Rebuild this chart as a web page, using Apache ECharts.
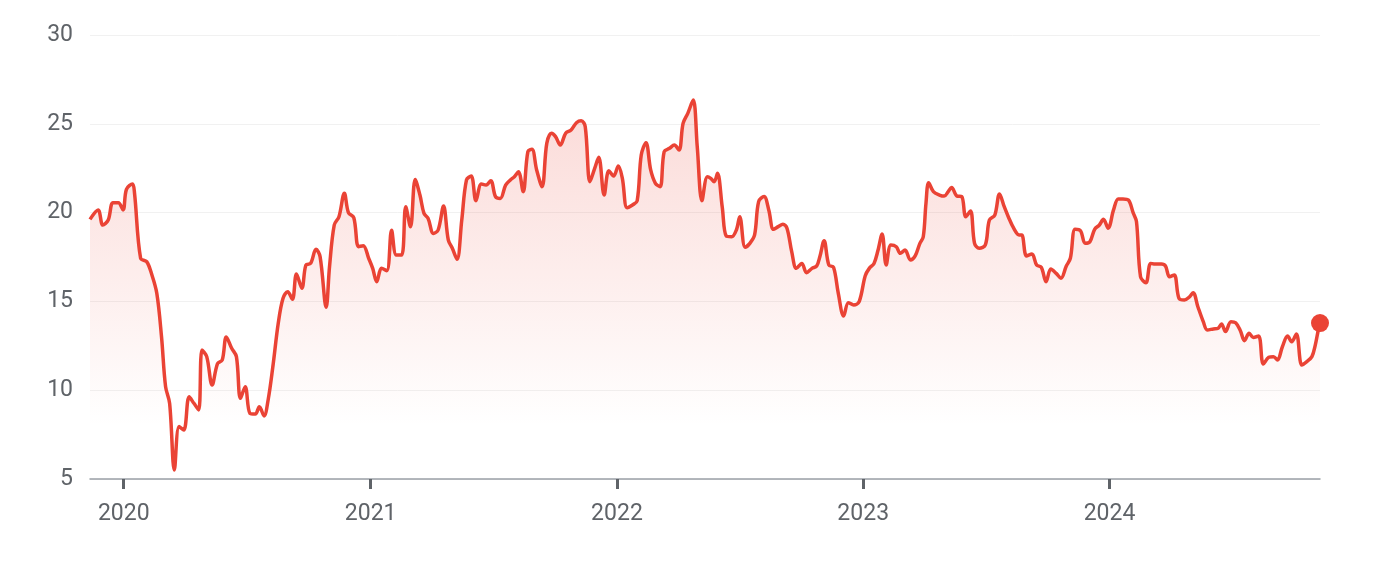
<!DOCTYPE html>
<html>
<head>
<meta charset="utf-8">
<script src="https://cdn.jsdelivr.net/npm/echarts@6/dist/echarts.min.js"></script>
<style>
html,body{margin:0;padding:0;background:#fff;}
#chart{width:1379px;height:563px;}
</style>
</head>
<body>
<div id="chart"></div>
<script>
const dates = [
'2019-11-12','2019-11-24','2019-12-01','2019-12-09','2019-12-16','2019-12-24','2019-12-31',
'2020-01-05','2020-01-14','2020-01-17','2020-01-26','2020-02-04','2020-02-11','2020-02-19','2020-02-26',
'2020-03-03','2020-03-09','2020-03-16','2020-03-23','2020-03-30','2020-04-07','2020-04-14','2020-04-21','2020-04-26',
'2020-05-03','2020-05-11','2020-05-19','2020-05-26','2020-06-01','2020-06-09','2020-06-16','2020-06-22','2020-06-29',
'2020-07-06','2020-07-14','2020-07-20','2020-07-27','2020-08-02','2020-08-09','2020-08-17','2020-08-24','2020-08-31',
'2020-09-07','2020-09-13','2020-09-21','2020-09-27','2020-10-04','2020-10-12','2020-10-18','2020-10-27',
'2020-11-01','2020-11-08','2020-11-15','2020-11-23','2020-11-29','2020-12-07','2020-12-14','2020-12-21','2020-12-29',
'2021-01-04','2021-01-10','2021-01-17','2021-01-25','2021-02-01','2021-02-08','2021-02-16','2021-02-22',
'2021-03-01','2021-03-08','2021-03-15','2021-03-21','2021-03-27','2021-04-04','2021-04-11','2021-04-19','2021-04-26',
'2021-05-02','2021-05-09','2021-05-16','2021-05-23','2021-05-30','2021-06-06','2021-06-14','2021-06-21','2021-06-28',
'2021-07-05','2021-07-12','2021-07-20','2021-07-27','2021-08-02','2021-08-08','2021-08-15','2021-08-22','2021-08-28',
'2021-09-04','2021-09-12','2021-09-19','2021-09-26','2021-10-02','2021-10-09','2021-10-17','2021-10-25',
'2021-11-02','2021-11-09','2021-11-15','2021-11-22','2021-11-29','2021-12-05','2021-12-13','2021-12-20','2021-12-27',
'2022-01-03','2022-01-09','2022-01-16','2022-01-24','2022-01-31','2022-02-06','2022-02-13','2022-02-20','2022-02-27',
'2022-03-06','2022-03-12','2022-03-20','2022-03-27','2022-04-03','2022-04-09','2022-04-16','2022-04-24','2022-04-30',
'2022-05-07','2022-05-15','2022-05-20','2022-05-25','2022-05-30','2022-06-06','2022-06-12','2022-06-20','2022-06-27',
'2022-07-02','2022-07-10','2022-07-17','2022-07-24','2022-07-30','2022-08-07','2022-08-14','2022-08-21','2022-08-28',
'2022-09-04','2022-09-10','2022-09-17','2022-09-24','2022-10-02','2022-10-09','2022-10-17','2022-10-24','2022-10-29',
'2022-11-04','2022-11-11','2022-11-18','2022-11-25','2022-12-03','2022-12-10','2022-12-18','2022-12-26',
'2023-01-04','2023-01-10','2023-01-17','2023-01-23','2023-01-29','2023-02-04','2023-02-11','2023-02-19','2023-02-25',
'2023-03-04','2023-03-12','2023-03-19','2023-03-26','2023-03-31','2023-04-04','2023-04-08','2023-04-15','2023-04-24',
'2023-05-01','2023-05-07','2023-05-12','2023-05-20','2023-05-27','2023-06-02','2023-06-09','2023-06-15','2023-06-22',
'2023-07-01','2023-07-07','2023-07-15','2023-07-22','2023-07-29','2023-08-04','2023-08-12','2023-08-20','2023-08-24','2023-08-31',
'2023-09-08','2023-09-15','2023-09-22','2023-09-29','2023-10-06','2023-10-14','2023-10-21','2023-10-29',
'2023-11-04','2023-11-11','2023-11-19','2023-11-26','2023-12-03','2023-12-10','2023-12-17','2023-12-23','2023-12-30',
'2024-01-07','2024-01-14','2024-01-21','2024-01-29','2024-02-05','2024-02-10','2024-02-16','2024-02-24',
'2024-03-02','2024-03-09','2024-03-18','2024-03-24','2024-03-30','2024-04-06','2024-04-13','2024-04-21','2024-04-29',
'2024-05-04','2024-05-11','2024-05-19','2024-05-25','2024-06-03','2024-06-10','2024-06-15','2024-06-21','2024-06-29',
'2024-07-06','2024-07-13','2024-07-19','2024-07-26','2024-08-01','2024-08-09','2024-08-16','2024-08-24','2024-08-31',
'2024-09-06','2024-09-13','2024-09-21','2024-09-27','2024-10-04','2024-10-12','2024-10-19','2024-10-27',
'2024-11-01','2024-11-05','2024-11-08'
];
const prices = [
19.62,20.15,19.30,19.58,20.56,20.56,20.15,
21.31,21.61,21.09,17.43,17.24,16.58,15.46,13.01,
10.20,9.26,5.51,7.95,7.76,9.63,9.26,8.89,12.26,
11.89,10.29,11.50,11.70,13.00,12.36,11.89,9.54,10.20,
8.70,8.66,9.07,8.55,9.45,11.32,13.77,15.17,15.55,
15.12,16.54,15.74,17.05,17.14,17.93,17.52,14.67,
16.95,19.30,19.77,21.09,20.00,19.71,18.08,18.14,17.43,
16.86,16.11,16.86,16.73,19.00,17.61,17.61,20.33,
19.20,21.87,20.99,19.96,19.68,18.83,19.02,20.37,18.46,
17.99,17.37,19.58,21.84,22.06,20.67,21.61,21.55,21.80,
20.90,20.80,21.55,21.84,22.02,22.30,21.18,23.43,23.56,
22.40,21.46,23.90,24.47,24.28,23.80,24.47,24.65,
25.06,25.17,24.84,21.74,22.49,23.11,20.99,22.36,22.06,
22.62,21.93,20.28,20.43,20.67,23.24,23.94,22.40,21.65,
21.46,23.43,23.62,23.80,23.52,25.02,25.59,26.34,23.71,
20.67,22.02,21.93,21.74,22.21,20.33,18.68,18.64,19.02,
19.77,18.05,18.27,18.74,20.62,20.90,20.15,19.06,19.21,
19.34,19.12,17.80,16.86,17.14,16.62,16.86,16.99,17.56,
18.42,17.05,16.92,15.46,14.18,14.93,14.80,14.99,
16.45,16.86,17.14,17.89,18.80,17.05,18.18,18.08,17.71,
17.89,17.33,17.56,18.27,18.64,20.52,21.68,21.18,20.99,
20.93,21.18,21.42,20.93,20.90,19.77,20.09,18.27,17.99,
18.18,19.58,19.86,21.05,20.33,19.77,19.12,18.74,18.74,17.56,
17.67,17.05,16.92,16.11,16.82,16.58,16.30,16.99,
17.43,19.06,18.98,18.27,18.36,19.06,19.30,19.62,19.12,
20.15,20.77,20.77,20.71,20.00,19.49,16.39,16.05,
17.14,17.10,17.10,16.99,16.39,16.49,15.17,15.08,15.27,
15.49,14.70,13.86,13.39,13.45,13.49,13.73,13.30,13.86,
13.80,13.35,12.79,13.20,12.97,13.05,11.47,11.85,11.89,
11.70,12.42,13.05,12.73,13.17,11.42,11.60,11.89,
12.54,13.30,13.78
];
const yTicks = [5, 10, 15, 20, 25, 30];
const yearTicks = ['2020-01-01','2021-01-01','2022-01-01','2023-01-01','2024-01-01'];
const xMin = '2019-11-12';
const xMax = '2024-11-08';

const ts = s => Date.parse(s + 'T00:00:00Z');
const seriesData = dates.map((d, i) => [ts(d), prices[i]]);
const lastPoint = seriesData[seriesData.length - 1];
const yearTickValues = yearTicks.map(ts);

const chart = echarts.init(document.getElementById('chart'), null, {renderer: 'canvas'});
chart.setOption({
  animation: false,
  backgroundColor: '#ffffff',
  grid: {left: 90, right: 59, top: 35, bottom: 84, containLabel: false},
  xAxis: {
    type: 'value',
    min: ts(xMin),
    max: ts(xMax),
    axisLine: {show: true, onZero: false, lineStyle: {color: '#9aa0a6', width: 1.5}},
    axisTick: {show: true, customValues: yearTickValues, length: 10, lineStyle: {color: '#5f6368', width: 3}},
    axisLabel: {
      show: true, customValues: yearTickValues, margin: 24,
      fontFamily: 'Roboto', fontSize: 23, color: '#5f6368',
      formatter: v => String(new Date(v).getUTCFullYear())
    },
    splitLine: {show: false}
  },
  yAxis: {
    type: 'value',
    min: yTicks[0],
    max: yTicks[yTicks.length - 1],
    interval: 5,
    axisLine: {show: false},
    axisTick: {show: false},
    axisLabel: {margin: 17, fontFamily: 'Roboto', fontSize: 23, color: '#5f6368'},
    splitLine: {show: true, lineStyle: {color: '#f1f1f1', width: 1}}
  },
  series: [
    {
      type: 'line',
      data: seriesData,
      smooth: 0.35,
      symbol: 'none',
      lineStyle: {color: '#ea4335', width: 3.5},
      areaStyle: {
        origin: 'start',
        color: new echarts.graphic.LinearGradient(0, 0, 0, 1, [
          {offset: 0, color: 'rgba(234,67,53,0.28)'},
          {offset: 0.5, color: 'rgba(234,67,53,0.12)'},
          {offset: 0.8, color: 'rgba(234,67,53,0.02)'},
          {offset: 0.86, color: 'rgba(234,67,53,0)'},
          {offset: 1, color: 'rgba(234,67,53,0)'}
        ])
      },
      z: 2
    },
    {
      type: 'scatter',
      data: [lastPoint],
      symbol: 'circle',
      symbolSize: 18,
      itemStyle: {color: '#ea4335', opacity: 1},
      z: 3
    }
  ]
});
</script>
</body>
</html>
